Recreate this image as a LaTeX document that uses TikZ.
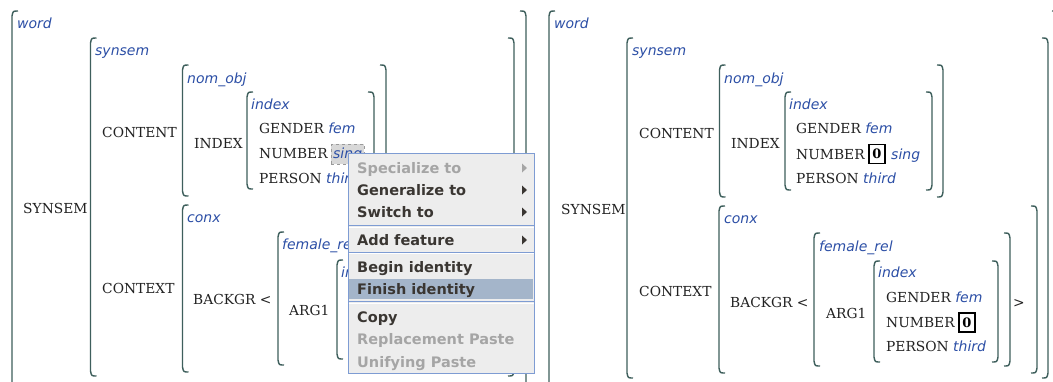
\documentclass[tikz,border=0pt]{standalone}
\usepackage{fontspec}
\newfontfamily\serifface{DejaVu Serif}
\newfontfamily\sansface{DejaVu Sans}
\newcommand\featsize{\serifface\fontsize{13.8}{16}\selectfont}
\newcommand\typesize{\sansface\itshape\fontsize{14}{17}\selectfont}
\newcommand\menusize{\sansface\bfseries\fontsize{14.5}{17}\selectfont}
\newcommand\tv[1]{{\typesize\color{typcol}#1}}

\definecolor{brk}{HTML}{3E5F5C}
\definecolor{typcol}{HTML}{2C4FA6}
\definecolor{featcol}{HTML}{222222}
\definecolor{menubg}{HTML}{EDEDED}
\definecolor{menuedge}{HTML}{7E9CD3}
\definecolor{menuhi}{HTML}{A4B5CA}
\definecolor{menutext}{HTML}{3A3632}
\definecolor{menuoff}{HTML}{A5A5A5}
\definecolor{selfill}{HTML}{D8D8D8}
\definecolor{seledge}{HTML}{9A9A9A}

% square brackets of an attribute-value matrix: x, top y, bottom y
\newcommand\brL[3]{\draw[avm] (#1+6,#2) .. controls (#1+1,#2) .. (#1,#2+5) -- (#1,#3-5) .. controls (#1+1,#3) .. (#1+6,#3);}
\newcommand\brR[3]{\draw[avm] (#1-6,#2) .. controls (#1-1,#2) .. (#1,#2+5) -- (#1,#3-5) .. controls (#1-1,#3) .. (#1-6,#3);}

\tikzset{
  avm/.style={draw=brk, line width=1.4pt},
  fe/.style={anchor=base west, inner sep=0pt, text=featcol, font=\featsize},
  ty/.style={anchor=base west, inner sep=0pt, text=typcol, font=\typesize},
  tag/.style={draw=black, line width=1.2pt, inner sep=0pt, minimum width=16pt, minimum height=19pt, text=black, font=\serifface\bfseries\fontsize{13}{15}\selectfont},
  sel/.style={anchor=base west, inner xsep=2pt, inner ysep=3pt, fill=selfill, draw=seledge, dashed, text=typcol, font=\typesize},
  mitem/.style={anchor=base west, inner sep=0pt, text=menutext, font=\menusize},
  moff/.style={mitem, text=menuoff},
}

\begin{document}
\begin{tikzpicture}[x=1pt, y=-1pt]
\useasboundingbox (0,0) rectangle (1053,381);
\fill[white] (0,0) rectangle (1053,381);
\clip (0,0) rectangle (1053,381);

% ---------- left structure ----------
\brL{12}{11}{400} \brR{526}{11}{400}
\node[ty] (lWord) at (17,28) {word};
\node[fe] (lSYNSEM) at (23,213) {SYNSEM};
\brL{90.5}{38}{376} \brR{514}{38}{376}
\node[ty] (lSynsem) at (95,55) {synsem};
\node[fe] (lCONTENT) at (102,137) {CONTENT};
\brL{182.5}{65}{196} \brR{386}{65}{196}
\node[ty] (lNomObj) at (187,83) {nom\_obj};
\node[fe] (lINDEX) at (194,148) {INDEX};
\brL{247}{92}{189} \brR{374}{92}{189}
\node[ty] (lIndex) at (251,109) {index};
\node[fe] (lGENDER) at (259,133) {GENDER \tv{fem}};
\node[fe] (lNUMBER) at (259,158) {NUMBER};
\node[sel] (lSing) at (331,158) {sing};
\node[fe] (lPERSON) at (259,183) {PERSON \tv{third}};
\node[fe] (lCONTEXT) at (102,293) {CONTEXT};
\brL{182.5}{205}{372}
\node[ty] (lConx) at (187,222) {conx};
\node[fe] (lBACKGR) at (193,304) {BACKGR <};
\brL{278}{232}{365}
\node[ty] (lFemale) at (282,249) {female\_rel};
\node[fe] (lARG1) at (289,315) {ARG1};
\brL{337}{260}{359}
\begin{scope}
  \clip (330,260) rectangle (348,290);
  \node[ty] (lIndexB) at (341,277) {index};
\end{scope}

% ---------- popup menu ----------
\filldraw[fill=menubg, draw=menuedge, line width=1pt] (348,153) rectangle (534,373);
\fill[menuhi] (349,278.5) rectangle (533,299);
\foreach \sy in {225.5,252,301.5}{
  \draw[menuedge, line width=0.9pt] (348.5,\sy) -- (533.5,\sy);
  \draw[white, line width=0.9pt] (348.5,\sy+1.5) -- (533.5,\sy+1.5);
}
\node[moff]  (mSpec)  at (357,173) {Specialize to};
\node[mitem] (mGen)   at (357,195) {Generalize to};
\node[mitem] (mSw)    at (357,217) {Switch to};
\node[mitem] (mAdd)   at (357,245) {Add feature};
\node[mitem] (mBegin) at (357,272) {Begin identity};
\node[mitem] (mFin)   at (357,294) {Finish identity};
\node[mitem] (mCopy)  at (357,322) {Copy};
\node[moff]  (mRep)   at (357,344) {Replacement Paste};
\node[moff]  (mUni)   at (357,367) {Unifying Paste};
\fill[menuoff]  (522,163.5) -- (527,168) -- (522,172.5) -- cycle;
\fill[menutext] (522,185.5) -- (527,190) -- (522,194.5) -- cycle;
\fill[menutext] (522,207.5) -- (527,212) -- (522,216.5) -- cycle;
\fill[menutext] (522,235.5) -- (527,240) -- (522,244.5) -- cycle;

% ---------- right structure ----------
\brL{549}{11}{400} \brR{1058}{11}{400}
\node[ty] (rWord) at (554,28) {word};
\node[fe] (rSYNSEM) at (561,214) {SYNSEM};
\brL{627}{38}{378} \brR{1048}{38}{378}
\node[ty] (rSynsem) at (632,55) {synsem};
\node[fe] (rCONTENT) at (639,138) {CONTENT};
\brL{719.5}{65}{197} \brR{943}{65}{197}
\node[ty] (rNomObj) at (724,83) {nom\_obj};
\node[fe] (rINDEX) at (731,148) {INDEX};
\brL{785}{92}{190} \brR{932}{92}{190}
\node[ty] (rIndex) at (789,109) {index};
\node[fe] (rGENDER) at (796,133) {GENDER \tv{fem}};
\node[fe] (rNUMBER) at (796,159) {NUMBER};
\node[tag] (rTagA) at (877,154) {0};
\node[ty] (rSing) at (891,159) {sing};
\node[fe] (rPERSON) at (796,183) {PERSON \tv{third}};
\node[fe] (rCONTEXT) at (639,296) {CONTEXT};
\brL{719}{206}{373} \brR{1037}{206}{373}
\node[ty] (rConx) at (724,223) {conx};
\node[fe] (rBACKGR) at (730,307) {BACKGR <};
\brL{814}{233}{366} \brR{1010}{233}{366}
\node[ty] (rFemale) at (819,251) {female\_rel};
\node[fe] (rARG1) at (826,318) {ARG1};
\brL{874}{261}{362} \brR{998}{261}{362}
\node[ty] (rIndexB) at (878,277) {index};
\node[fe] (rGENDERb) at (886,302) {GENDER \tv{fem}};
\node[fe] (rNUMBERb) at (886,327) {NUMBER};
\node[tag] (rTagB) at (967,322.5) {0};
\node[fe] (rPERSONb) at (886,351) {PERSON \tv{third}};
\node[fe] (rClose) at (1013,307) {>};
\end{tikzpicture}
\end{document}
